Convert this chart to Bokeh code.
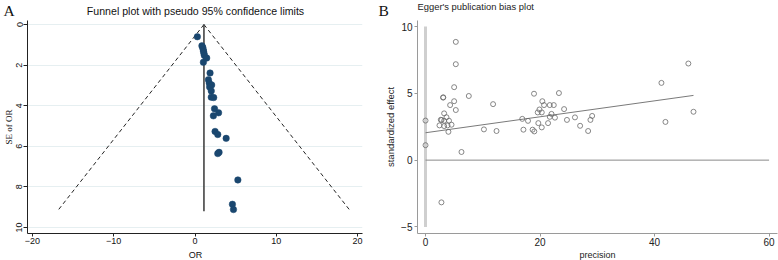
import math
from bokeh.plotting import figure
from bokeh.layouts import row, column
from bokeh.models import Range1d, Label, FixedTicker, ColumnDataSource
from bokeh.embed import file_html
from bokeh.resources import INLINE

# ---------------- Panel A: funnel plot ----------------
funnel_or = [0.29, 0.85, 0.95, 1.00, 1.05, 1.10, 1.15, 1.44, 1.03,
             1.85, 1.65, 1.75, 2.05, 1.80, 2.00, 2.00, 2.30,
             2.40, 2.90, 2.26, 2.47, 2.80, 3.83, 2.96, 2.80,
             5.27, 4.60, 4.73]
funnel_se = [0.60, 1.05, 1.12, 1.22, 1.32, 1.42, 1.52, 1.65, 1.86,
             2.39, 2.72, 2.88, 2.98, 3.08, 3.27, 3.58, 3.60,
             4.15, 4.35, 4.50, 5.27, 5.42, 5.61, 6.30, 6.36,
             7.66, 8.86, 9.12]
pooled_or = 1.1
funnel_se_max = 9.2
a_x_ticks = [-20, -10, 0, 10, 20]
a_y_ticks = [0, 2, 4, 6, 8, 10]

# ---------------- Panel B: Egger's plot ----------------
egger_precision = [0, 0, 2.78, 6.28, 5.29, 5.29, 5.0, 3.07, 3.10, 7.56,
                   5.0, 4.3, 11.8, 3.25, 5.29, 3.66, 2.67, 2.8, 3.25, 4.1,
                   2.44, 3.25, 3.84, 4.54, 4.0, 10.2, 12.4, 17.1, 18.7, 19.0,
                   28.4, 16.9, 17.9, 18.95, 23.3, 20.4, 20.7, 21.7, 22.4, 24.2,
                   19.9, 19.6, 20.3, 22.0, 21.7, 22.6, 19.7, 21.4, 20.3, 24.7,
                   26.1, 27.0, 28.8, 29.1, 41.2, 45.9, 41.9, 46.8]
egger_effect = [2.96, 1.12, -3.16, 0.61, 8.85, 7.18, 5.46, 4.68, 4.70, 4.8,
                4.41, 4.12, 4.19, 3.5, 3.75, 3.21, 3.02, 3.0, 2.95, 2.95,
                2.6, 2.55, 2.6, 2.65, 2.12, 2.3, 2.18, 2.28, 2.28, 2.15,
                2.18, 3.09, 2.94, 4.97, 5.02, 4.41, 4.12, 4.12, 4.12, 3.82,
                3.79, 3.57, 3.57, 3.46, 3.24, 3.18, 2.77, 2.77, 2.45, 3.01,
                3.2, 2.57, 3.01, 3.31, 5.78, 7.23, 2.86, 3.62]
egger_intercept = 2.05
egger_slope = 0.0597
egger_ci_low, egger_ci_high = -5, 10
b_x_ticks = [0, 20, 40, 60]
b_y_ticks = [-5, 0, 5, 10]

panel_titles = ["Funnel plot with pseudo 95% confidence limits", "Egger's publication bias plot"]
panel_letters = ["A", "B"]
x_titles = ["OR", "precision"]

SANS = "Liberation Sans"
SERIF = "Liberation Serif"

TOTAL_W = 778
TOP_H = 19
BOT_H = 12
PLOT_H = 260 - TOP_H - BOT_H
A_W = 382
B_W = TOTAL_W - A_W


def style_axis(ax, color, label_color, size):
    ax.axis_line_color = color
    ax.major_tick_line_color = color
    ax.minor_tick_line_color = None
    ax.minor_tick_out = 0
    ax.minor_tick_in = 0
    ax.major_tick_in = 0
    ax.major_tick_out = 3
    ax.major_label_text_font = SANS
    ax.major_label_text_font_size = size
    ax.major_label_text_color = label_color
    ax.major_label_text_line_height = 1.0
    ax.axis_label_text_line_height = 1.0
    ax.major_label_standoff = 1
    ax.axis_label_standoff = 0
    ax.axis_label_text_font_style = "normal"
    ax.axis_label_text_color = label_color


def strip_fig(h):
    f = figure(width=TOTAL_W, height=h, output_backend="svg", toolbar_location=None,
               x_range=Range1d(0, TOTAL_W), y_range=Range1d(h, 0),
               x_axis_type=None, y_axis_type=None, min_border=0,
               outline_line_color=None, background_fill_color="white",
               border_fill_color="white")
    return f


def strip_text(f, x, y, text, font, size, align, color="#111111"):
    f.add_layout(Label(x=x, y=y, text=text, text_align=align,
                       text_baseline="middle", text_font=font,
                       text_font_size=size, text_color=color))


# ---------- top strip: panel letters and titles ----------
top = strip_fig(TOP_H)
strip_text(top, 3, 9.5, panel_letters[0], SERIF, "15.5px", "left")
strip_text(top, 195, 10.3, panel_titles[0], SANS, "10.6px", "center")
strip_text(top, 378, 9.5, panel_letters[1], SERIF, "15.5px", "left")
strip_text(top, 417, 5.9, panel_titles[1], SANS, "9.4px", "left", "#222222")

# ---------- bottom strip: x axis titles ----------
bot = strip_fig(BOT_H)
strip_text(bot, 195, 6.0, x_titles[0], SANS, "9px", "center")
strip_text(bot, 597, 6.0, x_titles[1], SANS, "9px", "center", "#222222")

# ---------- Figure A ----------
pa = figure(width=A_W, height=PLOT_H, output_backend="svg", toolbar_location=None,
            x_range=Range1d(-20.6, 20.6), y_range=Range1d(10.3, -0.2),
            min_border_left=27, min_border_right=20, min_border_top=1,
            min_border_bottom=14, outline_line_color=None,
            background_fill_color="white", border_fill_color="white")

pa.xgrid.grid_line_color = None
pa.ygrid.grid_line_color = "#E6EFF1"
pa.ygrid.grid_line_width = 1
pa.xaxis.ticker = FixedTicker(ticks=a_x_ticks)
pa.yaxis.ticker = FixedTicker(ticks=a_y_ticks)
style_axis(pa.xaxis[0], "#222222", "#111111", "9px")
style_axis(pa.yaxis[0], "#222222", "#111111", "9px")
pa.yaxis.axis_label = "SE of OR"
pa.yaxis.axis_label_text_font = SERIF
pa.yaxis.axis_label_text_font_size = "9px"
pa.yaxis.major_label_orientation = "vertical"
pa.yaxis.major_tick_out = 4

# pseudo 95% confidence limits
z = 1.96
pa.line([pooled_or, pooled_or - z * funnel_se_max], [0, funnel_se_max],
        line_color="#222222", line_dash="4 3", line_width=1)
pa.line([pooled_or, pooled_or + z * funnel_se_max], [0, funnel_se_max],
        line_color="#222222", line_dash="4 3", line_width=1)
pa.line([pooled_or, pooled_or], [0, funnel_se_max],
        line_color="#444444", line_width=1.6)

src_a = ColumnDataSource(dict(x=funnel_or, y=funnel_se))
pa.scatter("x", "y", source=src_a, size=6.5, fill_color="#1A476F",
           line_color="#1A476F", line_width=0.5)

# ---------- Figure B ----------
pb = figure(width=B_W, height=PLOT_H, output_backend="svg", toolbar_location=None,
            x_range=Range1d(-1.4, 61.47), y_range=Range1d(-5.49, 10.45),
            min_border_left=35, min_border_right=1, min_border_top=0,
            min_border_bottom=14, outline_line_color=None,
            background_fill_color="white", border_fill_color="white")
pb.xgrid.grid_line_color = None
pb.ygrid.grid_line_color = None
pb.xaxis.ticker = FixedTicker(ticks=b_x_ticks)
pb.yaxis.ticker = FixedTicker(ticks=b_y_ticks)
style_axis(pb.xaxis[0], "#9a9a9a", "#222222", "10px")
style_axis(pb.yaxis[0], "#9a9a9a", "#222222", "10px")
pb.yaxis.axis_label = "standardized effect"
pb.yaxis.axis_label_text_font = SANS
pb.yaxis.axis_label_text_font_size = "9.5px"
pb.yaxis.axis_label_standoff = 2
pb.yaxis.major_label_standoff = 2

# CI bar of the intercept at precision 0
pb.line([0, 0], [egger_ci_low, egger_ci_high], line_color="#cfcfcf", line_width=3)
# zero reference line
pb.line([0, b_x_ticks[-1]], [0, 0], line_color="#8a8a8a", line_width=1)
# regression line
x_end = max(egger_precision)
pb.line([0, x_end], [egger_intercept, egger_intercept + egger_slope * x_end],
        line_color="#7a7a7a", line_width=1)

src_b = ColumnDataSource(dict(x=egger_precision, y=egger_effect))
pb.scatter("x", "y", source=src_b, size=5, fill_color=None,
           line_color="#6a6a6a", line_width=0.8)

layout = column(top, row(pa, pb, spacing=0), bot, spacing=0)
open("out.html", "w").write(file_html(layout, INLINE))
